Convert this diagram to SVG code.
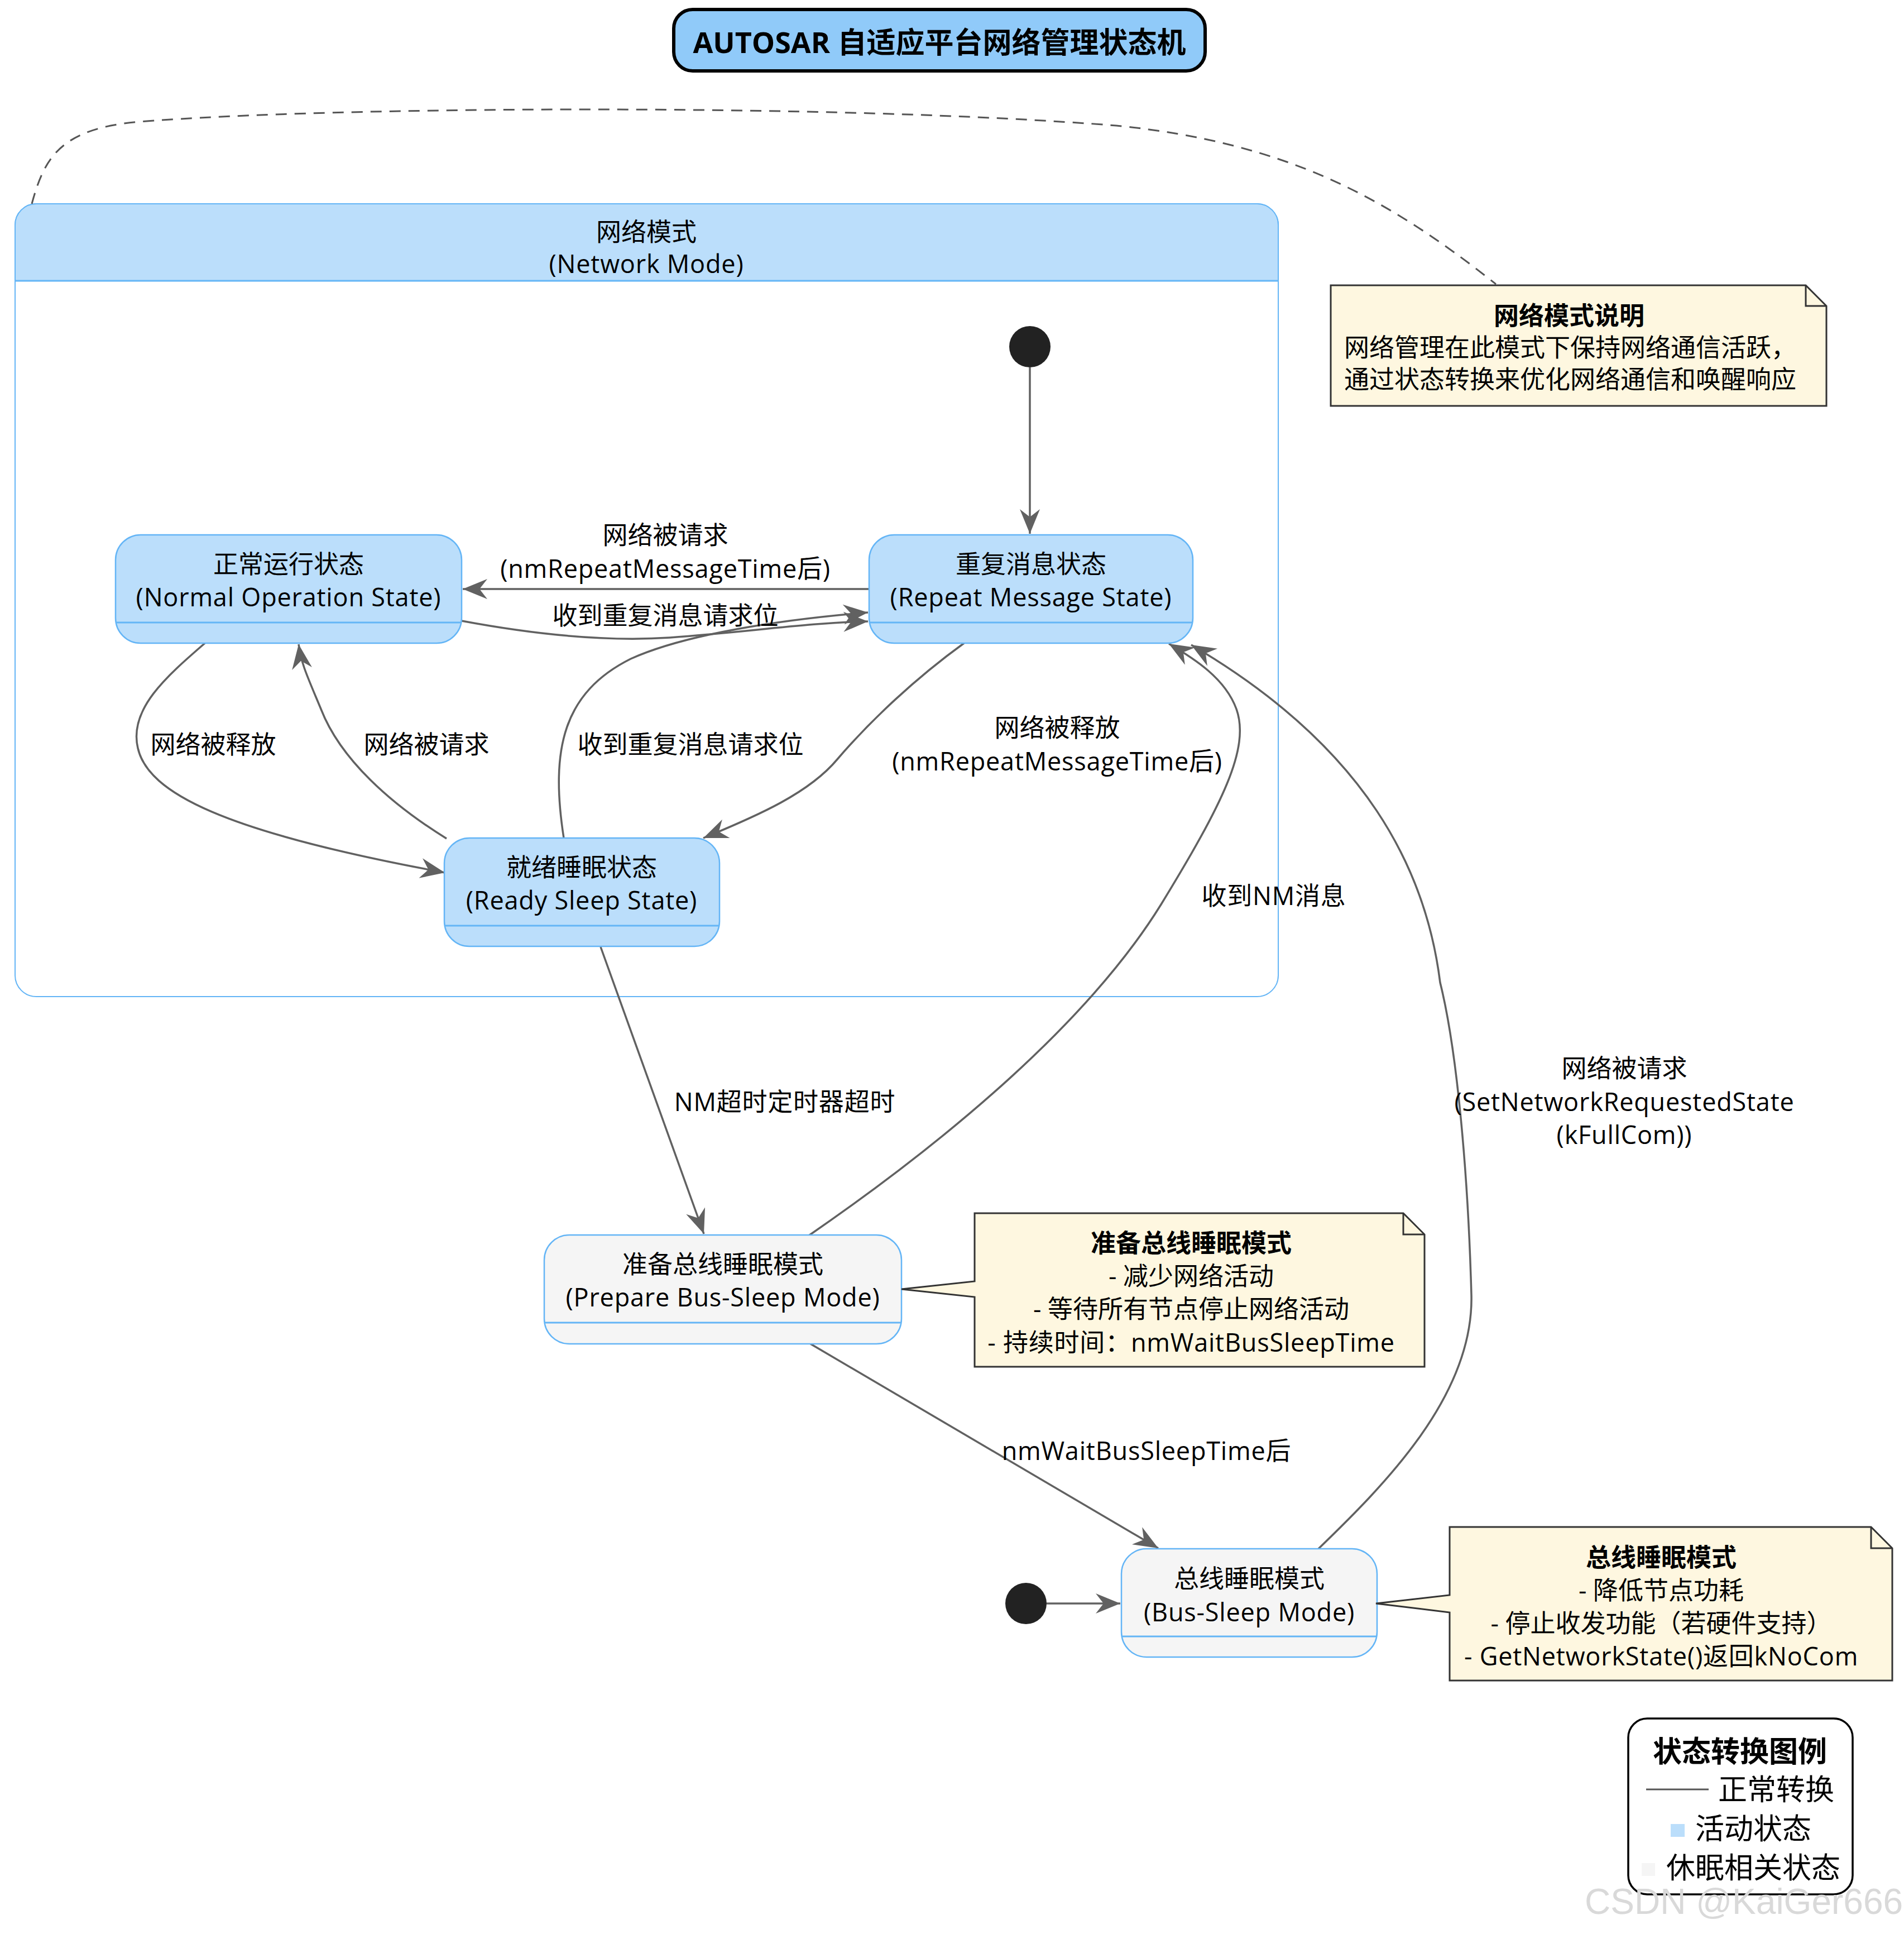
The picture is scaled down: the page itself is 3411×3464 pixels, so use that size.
<svg xmlns="http://www.w3.org/2000/svg" width="3411" height="3464" viewBox="0 0 3411 3464">
<style>
.t{font-family:'Open Sans','Noto Sans CJK SC',sans-serif;font-size:45px;fill:#000;text-anchor:middle;dominant-baseline:central}
.b{font-weight:bold}
.s{text-anchor:start}
.lat{letter-spacing:0.8px}
.big{font-size:52px}
.act{fill:#BBDEFB;stroke:#64B5F6;stroke-width:2.5}
.slp{fill:#F5F5F5;stroke:#64B5F6;stroke-width:2.5}
.sep{stroke:#64B5F6;stroke-width:3}
.c{fill:none;stroke:#616161;stroke-width:3.5;marker-end:url(#ah)}
.note{fill:#FEF7E0;stroke:#333;stroke-width:3}
</style>
<defs>
<marker id="ah" viewBox="-50 -25 55 50" markerWidth="55" markerHeight="50" refX="0" refY="0" orient="auto" markerUnits="userSpaceOnUse">
<path d="M0,0 L-44,-18 L-30,0 L-44,18 Z" fill="#616161"/>
</marker>
</defs>
<rect width="3411" height="3464" fill="#fff"/>

<g id="title">
<rect x="1207" y="17" width="952" height="110" rx="34" fill="#90CAF9" stroke="#000" stroke-width="6"/>
<text class="t b big" x="1683" y="74">AUTOSAR 自适应平台网络管理状态机</text>
</g>

<g id="network-mode">
<rect x="27" y="365" width="2263" height="1420" rx="38" fill="#fff" stroke="#64B5F6" stroke-width="2"/>
<path d="M27,503 L27,403 A38,38 0 0 1 65,365 L2252,365 A38,38 0 0 1 2290,403 L2290,503 Z" fill="#BBDEFB" stroke="#64B5F6" stroke-width="2"/>
<line x1="27" y1="503" x2="2290" y2="503" stroke="#64B5F6" stroke-width="3"/>
<text class="t" x="1158" y="414">网络模式<tspan class="lat" x="1158" dy="57">(Network Mode)</tspan></text>
</g>

<g id="connectors">
<path d="M57,365 C80,280 110,230 250,218 C600,190 1500,185 2000,225 C2300,255 2480,350 2680,509" fill="none" stroke="#555" stroke-width="3" stroke-dasharray="20,14"/>
<path class="c" d="M1845,658 L1845,956"/>
<path class="c" d="M1557,1055 L829,1055"/>
<path class="c" d="M827,1112 C950,1135 1080,1150 1200,1142 C1330,1133 1450,1115 1555,1113"/>
<path class="c" d="M1010,1501 C985,1340 1010,1240 1130,1180 C1230,1135 1400,1110 1555,1097"/>
<path class="c" d="M367,1152 C300,1210 230,1270 247,1340 C265,1420 400,1490 797,1563"/>
<path class="c" d="M800,1502 C700,1440 610,1360 575,1270 C550,1210 540,1190 535,1154"/>
<path class="c" d="M1727,1152 C1640,1215 1560,1290 1500,1360 C1450,1420 1360,1460 1260,1501"/>
<path class="c" d="M1076,1696 L1261,2210"/>
<path class="c" d="M1449,2213 C1700,2040 1950,1830 2080,1620 C2190,1440 2240,1340 2215,1270 C2195,1215 2140,1180 2094,1153"/>
<path class="c" d="M2362,2774 C2480,2660 2640,2500 2636,2320 C2630,2100 2610,1880 2580,1760 C2555,1560 2450,1340 2134,1155"/>
<path class="c" d="M1452,2407 L2075,2773"/>
<path class="c" d="M1875,2872 L2007,2872"/>
</g>

<g id="labels">
<text class="t" x="1192" y="957">网络被请求<tspan class="lat" x="1192" dy="60">(nmRepeatMessageTime后)</tspan></text>
<text class="t" x="1192" y="1101">收到重复消息请求位</text>
<text class="t" x="1237" y="1332">收到重复消息请求位</text>
<text class="t" x="382" y="1332">网络被释放</text>
<text class="t" x="764" y="1332">网络被请求</text>
<text class="t" x="1894" y="1302">网络被释放<tspan class="lat" x="1894" dy="60">(nmRepeatMessageTime后)</tspan></text>
<text class="t lat" x="1406" y="1972">NM超时定时器超时</text>
<text class="t lat" x="2282" y="1603">收到NM消息</text>
<text class="t" x="2910" y="1912">网络被请求<tspan class="lat" x="2910" dy="60">(SetNetworkRequestedState</tspan><tspan class="lat" x="2910" dy="59">(kFullCom))</tspan></text>
<text class="t lat" x="2054" y="2597">nmWaitBusSleepTime后</text>
</g>

<g id="init1"><circle cx="1845" cy="621" r="37" fill="#222"/></g>
<g id="init2"><circle cx="1838" cy="2872" r="37" fill="#222"/></g>

<g id="normal-operation">
<rect class="act" x="207" y="958" width="620" height="194" rx="45"/>
<line class="sep" x1="208" y1="1115" x2="826" y2="1115"/>
<text class="t" x="517" y="1009">正常运行状态<tspan class="lat" x="517" dy="59">(Normal Operation State)</tspan></text>
</g>

<g id="repeat-message">
<rect class="act" x="1557" y="958" width="580" height="194" rx="45"/>
<line class="sep" x1="1558" y1="1115" x2="2136" y2="1115"/>
<text class="t" x="1847" y="1009">重复消息状态<tspan class="lat" x="1847" dy="59">(Repeat Message State)</tspan></text>
</g>

<g id="ready-sleep">
<rect class="act" x="796" y="1501" width="493" height="194" rx="45"/>
<line class="sep" x1="797" y1="1658" x2="1288" y2="1658"/>
<text class="t" x="1042" y="1552">就绪睡眠状态<tspan class="lat" x="1042" dy="59">(Ready Sleep State)</tspan></text>
</g>

<g id="prepare-bus-sleep">
<rect class="slp" x="975" y="2212" width="640" height="195" rx="45"/>
<line class="sep" x1="976" y1="2369" x2="1614" y2="2369"/>
<text class="t" x="1295" y="2263">准备总线睡眠模式<tspan class="lat" x="1295" dy="59">(Prepare Bus-Sleep Mode)</tspan></text>
</g>

<g id="bus-sleep">
<rect class="slp" x="2009" y="2774" width="458" height="194" rx="45"/>
<line class="sep" x1="2010" y1="2931" x2="2466" y2="2931"/>
<text class="t" x="2238" y="2826">总线睡眠模式<tspan class="lat" x="2238" dy="60">(Bus-Sleep Mode)</tspan></text>
</g>

<g id="note-network">
<path class="note" d="M2384,511 L3235,511 L3272,548 L3272,727 L2384,727 Z"/>
<path d="M3235,511 L3235,548 L3272,548" fill="none" stroke="#333" stroke-width="3"/>
<text class="t" x="2811" y="564"><tspan class="b">网络模式说明</tspan><tspan class="s" x="2408" dy="57" text-anchor="start">网络管理在此模式下保持网络通信活跃，</tspan><tspan x="2408" dy="57" text-anchor="start">通过状态转换来优化网络通信和唤醒响应</tspan></text>
</g>

<g id="note-prepare">
<path class="note" d="M1746,2173 L2514,2173 L2552,2211 L2552,2448 L1746,2448 L1746,2323 L1615,2309 L1746,2295 Z"/>
<path d="M2514,2173 L2514,2211 L2552,2211" fill="none" stroke="#333" stroke-width="3"/>
<text class="t" x="2134" y="2225"><tspan class="b">准备总线睡眠模式</tspan><tspan x="2134" dy="59">- 减少网络活动</tspan><tspan x="2134" dy="59">- 等待所有节点停止网络活动</tspan><tspan class="lat" x="2134" dy="60">- 持续时间：nmWaitBusSleepTime</tspan></text>
</g>

<g id="note-bus-sleep">
<path class="note" d="M2597,2735 L3352,2735 L3390,2773 L3390,3010 L2597,3010 L2597,2888 L2465,2872 L2597,2857 Z"/>
<path d="M3352,2735 L3352,2773 L3390,2773" fill="none" stroke="#333" stroke-width="3"/>
<text class="t" x="2976" y="2788"><tspan class="b">总线睡眠模式</tspan><tspan x="2976" dy="59">- 降低节点功耗</tspan><tspan x="2976" dy="59">- 停止收发功能（若硬件支持）</tspan><tspan class="lat" x="2976" dy="59">- GetNetworkState()返回kNoCom</tspan></text>
</g>

<g id="legend">
<rect x="2917" y="3078" width="402" height="315" rx="34" fill="#fff" stroke="#000" stroke-width="3.5"/>
<text class="t big" x="3117" y="3135"><tspan class="b">状态转换图例</tspan><tspan x="3078" dy="68" text-anchor="start">正常转换</tspan><tspan x="3037" dy="70" text-anchor="start">活动状态</tspan><tspan x="2985" dy="70" text-anchor="start">休眠相关状态</tspan></text>
<line x1="2949" y1="3205" x2="3061" y2="3205" stroke="#555" stroke-width="3"/>
<rect x="2993" y="3267" width="25" height="23" fill="#BBDEFB"/>
<rect x="2941" y="3337" width="24" height="23" fill="#F5F5F5"/>
</g>

<text x="2839" y="3428" font-family="'Liberation Sans',Arial,sans-serif" font-size="64" fill="#d9d9d9">CSDN @KaiGer666</text>
</svg>
